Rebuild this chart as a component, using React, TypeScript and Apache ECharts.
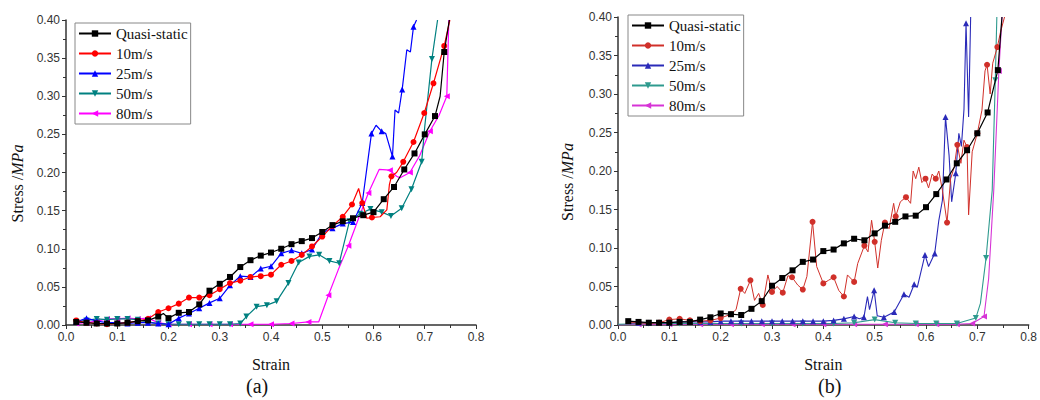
import React, { useEffect, useRef } from "react";
import * as echarts from "echarts";

// ---------- data (strain, stress[, 0 = no marker]) ----------
const seriesNames = ["Quasi-static", "10m/s", "25m/s", "50m/s", "80m/s"];

const quasiA = [
  [0.02, 0.004], [0.04, 0.003], [0.06, 0.002], [0.08, 0.002], [0.10, 0.002], [0.12, 0.003],
  [0.14, 0.005], [0.16, 0.006], [0.18, 0.011], [0.19, 0.015, 0], [0.20, 0.009], [0.22, 0.016],
  [0.24, 0.017], [0.26, 0.027], [0.28, 0.045], [0.30, 0.054], [0.32, 0.063], [0.34, 0.076],
  [0.36, 0.085], [0.38, 0.091], [0.40, 0.095], [0.42, 0.100], [0.44, 0.106], [0.46, 0.110],
  [0.48, 0.114], [0.50, 0.122], [0.52, 0.131], [0.54, 0.136], [0.56, 0.140], [0.58, 0.144],
  [0.60, 0.148], [0.62, 0.165], [0.64, 0.181], [0.66, 0.204], [0.68, 0.225], [0.70, 0.250],
  [0.72, 0.274], [0.73, 0.300, 0], [0.738, 0.358], [0.748, 0.40, 0],
];
const v10A = [
  [0.02, 0.006], [0.04, 0.003], [0.06, 0.002], [0.08, 0.001], [0.10, 0.002], [0.12, 0.003],
  [0.14, 0.005], [0.16, 0.008], [0.18, 0.017], [0.20, 0.022], [0.22, 0.028], [0.24, 0.036],
  [0.26, 0.036], [0.28, 0.039], [0.30, 0.047], [0.32, 0.055], [0.34, 0.058], [0.36, 0.063],
  [0.38, 0.064], [0.40, 0.066], [0.42, 0.079], [0.44, 0.084], [0.46, 0.092], [0.48, 0.103],
  [0.50, 0.116], [0.52, 0.130], [0.54, 0.142], [0.558, 0.158], [0.571, 0.179, 0], [0.578, 0.160],
  [0.587, 0.140, 0], [0.597, 0.141], [0.613, 0.142, 0], [0.626, 0.151, 0], [0.631, 0.184, 0],
  [0.635, 0.195], [0.645, 0.200, 0], [0.658, 0.214], [0.678, 0.240], [0.699, 0.278],
  [0.717, 0.317], [0.738, 0.366], [0.749, 0.40, 0],
];
const v25A = [
  [0.02, 0.004], [0.04, 0.009], [0.06, 0.005], [0.08, 0.003], [0.10, 0.003], [0.12, 0.002],
  [0.14, 0.003], [0.16, 0.003], [0.18, 0.002], [0.20, 0.001], [0.22, 0.009], [0.24, 0.015],
  [0.26, 0.022], [0.28, 0.029], [0.30, 0.035], [0.32, 0.052], [0.34, 0.064], [0.36, 0.063],
  [0.38, 0.074], [0.40, 0.077], [0.42, 0.094], [0.44, 0.098], [0.46, 0.094], [0.48, 0.099],
  [0.50, 0.121], [0.52, 0.127], [0.54, 0.133], [0.56, 0.135], [0.578, 0.160], [0.596, 0.251],
  [0.605, 0.262, 0], [0.616, 0.254], [0.624, 0.251, 0], [0.637, 0.221], [0.642, 0.282, 0],
  [0.649, 0.278, 0], [0.656, 0.309], [0.665, 0.361, 0], [0.672, 0.358, 0], [0.678, 0.391],
  [0.684, 0.40, 0],
];
const v50A = [
  [0.02, 0.004], [0.04, 0.006], [0.06, 0.008], [0.08, 0.007], [0.10, 0.008], [0.12, 0.008],
  [0.14, 0.007], [0.16, 0.004], [0.18, 0.002], [0.20, 0.001], [0.22, 0.001], [0.24, 0.001],
  [0.26, 0.001], [0.28, 0.001], [0.30, 0.001], [0.32, 0.001], [0.34, 0.002], [0.352, 0.011],
  [0.372, 0.024], [0.392, 0.026], [0.411, 0.031], [0.434, 0.055], [0.454, 0.082], [0.475, 0.090],
  [0.494, 0.092], [0.514, 0.084], [0.533, 0.081], [0.553, 0.136], [0.574, 0.146], [0.594, 0.152],
  [0.616, 0.148], [0.634, 0.143], [0.655, 0.153], [0.674, 0.178], [0.694, 0.214], [0.70, 0.26, 0],
  [0.714, 0.349], [0.725, 0.40, 0],
];
const v80A = [
  [0.02, 0.002], [0.04, 0.003], [0.06, 0.005], [0.08, 0.008], [0.10, 0.008], [0.12, 0.009],
  [0.14, 0.008], [0.16, 0.009], [0.18, 0.003], [0.20, 0.001], [0.24, 0.001], [0.28, 0.001],
  [0.32, 0.001], [0.36, 0.001], [0.40, 0.001], [0.44, 0.002], [0.473, 0.004], [0.493, 0.004, 0],
  [0.512, 0.039], [0.531, 0.072, 0], [0.551, 0.104], [0.571, 0.140, 0], [0.59, 0.173],
  [0.611, 0.204, 0], [0.632, 0.203], [0.645, 0.195, 0], [0.652, 0.193, 0], [0.671, 0.200],
  [0.69, 0.222, 0], [0.71, 0.254], [0.728, 0.275, 0], [0.743, 0.300], [0.747, 0.40, 0],
];

const quasiB = [
  [0.02, 0.005], [0.04, 0.004], [0.06, 0.003], [0.08, 0.003], [0.10, 0.003], [0.12, 0.004],
  [0.14, 0.004], [0.16, 0.007], [0.18, 0.010], [0.20, 0.015], [0.22, 0.014], [0.24, 0.013],
  [0.26, 0.021], [0.28, 0.031], [0.30, 0.051], [0.32, 0.061], [0.34, 0.071], [0.36, 0.082],
  [0.38, 0.085], [0.40, 0.096], [0.42, 0.098], [0.44, 0.106], [0.46, 0.112], [0.48, 0.110],
  [0.50, 0.119], [0.52, 0.129], [0.54, 0.134], [0.56, 0.141], [0.58, 0.142], [0.60, 0.153],
  [0.62, 0.170], [0.64, 0.189], [0.66, 0.210], [0.68, 0.227], [0.70, 0.249], [0.72, 0.276],
  [0.74, 0.331], [0.748, 0.40, 0],
];
const v10B = [
  [0.02, 0.003, 0], [0.04, 0.003, 0], [0.06, 0.002, 0], [0.08, 0.003], [0.10, 0.007], [0.12, 0.008],
  [0.14, 0.006], [0.16, 0.005], [0.18, 0.006], [0.20, 0.009], [0.22, 0.014], [0.23, 0.020, 0],
  [0.239, 0.047], [0.247, 0.041, 0], [0.258, 0.058], [0.266, 0.032, 0], [0.274, 0.041, 0],
  [0.282, 0.026], [0.292, 0.065, 0], [0.30, 0.043], [0.31, 0.050, 0], [0.321, 0.042],
  [0.331, 0.064, 0], [0.339, 0.062], [0.35, 0.052, 0], [0.36, 0.046], [0.368, 0.063, 0],
  [0.379, 0.134], [0.387, 0.076, 0], [0.40, 0.054], [0.41, 0.058, 0], [0.42, 0.062],
  [0.43, 0.045, 0], [0.44, 0.037], [0.447, 0.065, 0], [0.46, 0.056], [0.467, 0.080, 0],
  [0.48, 0.103], [0.487, 0.095, 0], [0.494, 0.136, 0], [0.50, 0.108], [0.506, 0.074, 0],
  [0.513, 0.110, 0], [0.52, 0.133], [0.528, 0.125, 0], [0.537, 0.158, 0], [0.541, 0.141],
  [0.55, 0.160, 0], [0.561, 0.166], [0.57, 0.158, 0], [0.575, 0.200, 0], [0.58, 0.190, 0],
  [0.586, 0.205, 0], [0.592, 0.185, 0], [0.599, 0.190], [0.605, 0.178, 0], [0.612, 0.196, 0],
  [0.619, 0.190], [0.625, 0.200, 0], [0.632, 0.175, 0], [0.641, 0.133], [0.648, 0.190, 0],
  [0.655, 0.205, 0], [0.661, 0.234], [0.668, 0.210, 0], [0.674, 0.240, 0], [0.68, 0.231],
  [0.683, 0.143, 0], [0.69, 0.225, 0], [0.70, 0.249], [0.709, 0.279, 0], [0.715, 0.330, 0],
  [0.719, 0.338], [0.725, 0.300, 0], [0.73, 0.340, 0], [0.739, 0.361], [0.745, 0.380, 0],
  [0.753, 0.40, 0],
];
const v25B = [
  [0.02, 0.002, 0], [0.04, 0.003], [0.06, 0.003], [0.08, 0.003], [0.10, 0.003], [0.12, 0.004],
  [0.14, 0.004], [0.16, 0.004], [0.18, 0.004], [0.20, 0.005], [0.22, 0.005], [0.24, 0.005],
  [0.26, 0.005], [0.28, 0.005], [0.30, 0.005], [0.32, 0.005], [0.34, 0.005], [0.36, 0.005],
  [0.38, 0.005], [0.40, 0.005], [0.42, 0.006], [0.44, 0.008], [0.46, 0.011], [0.47, 0.008, 0],
  [0.479, 0.010], [0.486, 0.037, 0], [0.49, 0.020, 0], [0.499, 0.045], [0.505, 0.012, 0],
  [0.518, 0.010], [0.538, 0.017], [0.557, 0.040], [0.567, 0.036, 0], [0.577, 0.053],
  [0.583, 0.049, 0], [0.598, 0.091], [0.605, 0.076, 0], [0.617, 0.093], [0.625, 0.136, 0],
  [0.632, 0.162, 0], [0.638, 0.270], [0.645, 0.220, 0], [0.65, 0.160, 0], [0.658, 0.197],
  [0.664, 0.249, 0], [0.669, 0.232, 0], [0.674, 0.280, 0], [0.678, 0.392], [0.683, 0.270, 0],
  [0.687, 0.40, 0],
];
const v50B = [
  [0.0, 0.001, 0], [0.06, 0.002], [0.12, 0.002], [0.18, 0.002], [0.24, 0.002], [0.30, 0.002],
  [0.36, 0.002], [0.42, 0.002], [0.46, 0.003], [0.50, 0.007], [0.54, 0.003], [0.58, 0.002],
  [0.62, 0.002], [0.66, 0.002], [0.697, 0.009], [0.706, 0.028, 0], [0.717, 0.087],
  [0.729, 0.175, 0], [0.735, 0.318], [0.738, 0.40, 0],
];
const v80B = [
  [0.0, 0.0, 0], [0.04, 0.001], [0.10, 0.001], [0.16, 0.001], [0.22, 0.001], [0.28, 0.001],
  [0.34, 0.001], [0.40, 0.001], [0.46, 0.001], [0.52, 0.001], [0.58, 0.001], [0.62, 0.001],
  [0.66, 0.001], [0.69, 0.002], [0.713, 0.011], [0.722, 0.060, 0], [0.732, 0.175, 0],
  [0.742, 0.330], [0.748, 0.40, 0],
];

const colorsA = ["#000000", "#ff0000", "#0000ff", "#008080", "#ff00ff"];
const colorsB = ["#000000", "#d0302a", "#2a2ab8", "#2e9a8e", "#d633d6"];
const symbols = ["rect", "circle", "triangle", "triangle", "triangle"];
const rotations = [0, 0, 0, 180, 90];

const SERIF = "'Liberation Serif', 'Times New Roman', serif";
const SANS = "'Liberation Sans', Arial, sans-serif";

type Cfg = {
  data: number[][][];
  colors: string[];
  grid: { left: number; top: number; width: number; height: number };
  legendPos: { left: number; top: number };
  label: string;
  labelX: number;
  yNameGap: number;
  widths: number[];
};

function buildOption(c: Cfg) {
  const axisColor = "#333";
  return {
    animation: false,
    backgroundColor: "#fff",
    grid: { ...c.grid, containLabel: false },
    legend: {
      orient: "vertical",
      left: c.legendPos.left,
      top: c.legendPos.top,
      data: seriesNames,
      itemWidth: 32,
      itemHeight: 8,
      itemGap: 3,
      padding: [2, 3, 2, 3],
      borderColor: "#888",
      borderWidth: 1,
      backgroundColor: "#fff",
      textStyle: { fontFamily: SERIF, fontSize: 15, color: "#111", lineHeight: 17 },
    },
    xAxis: {
      type: "value",
      min: 0,
      max: 0.8,
      interval: 0.1,
      name: "Strain",
      nameLocation: "middle",
      nameGap: 31,
      nameTextStyle: { fontFamily: SERIF, fontSize: 16, color: "#111" },
      axisLine: { show: true, onZero: false, lineStyle: { color: axisColor, width: 1.5 } },
      axisTick: { show: true, length: 4, lineStyle: { color: axisColor } },
      minorTick: { show: true, splitNumber: 2, length: 3, lineStyle: { color: axisColor } },
      splitLine: { show: false },
      axisLabel: {
        fontFamily: SANS,
        fontSize: 12,
        color: "#333",
        margin: 6,
        formatter: (v: number) => v.toFixed(1),
      },
    },
    yAxis: {
      type: "value",
      min: 0,
      max: 0.4,
      interval: 0.05,
      name: "{n|Stress /}{i|MPa}",
      nameLocation: "middle",
      nameGap: c.yNameGap,
      nameTextStyle: {
        fontFamily: SERIF,
        fontSize: 16,
        color: "#111",
        padding: [0, 22, 0, 0],
        rich: {
          n: { fontFamily: SERIF, fontSize: 16, color: "#111" },
          i: { fontFamily: SERIF, fontSize: 16, color: "#111", fontStyle: "italic" },
        },
      },
      axisLine: { show: true, onZero: false, lineStyle: { color: axisColor, width: 1.5 } },
      axisTick: { show: true, length: 4, lineStyle: { color: axisColor } },
      minorTick: { show: true, splitNumber: 2, length: 3, lineStyle: { color: axisColor } },
      splitLine: { show: false },
      axisLabel: {
        fontFamily: SANS,
        fontSize: 12,
        color: "#333",
        margin: 6,
        formatter: (v: number) => v.toFixed(2),
      },
    },
    graphic: [
      {
        type: "text",
        left: c.labelX - 12,
        top: 376,
        style: { text: c.label, font: `20px ${SERIF}`, fill: "#111" },
      },
    ],
    series: seriesNames.map((name, i) => ({
      type: "line",
      name,
      data: c.data[i],
      symbol: symbols[i],
      symbolRotate: rotations[i],
      symbolSize: (v: number[]) => (v.length > 2 && v[2] === 0 ? 0 : 6),
      showSymbol: true,
      showAllSymbol: true,
      clip: true,
      z: 10 - i,
      lineStyle: { color: c.colors[i], width: c.widths[i] },
      itemStyle: { color: c.colors[i] },
      emphasis: { disabled: true },
    })),
  };
}

const cfgA: Cfg = {
  data: [quasiA, v10A, v25A, v50A, v80A],
  colors: colorsA,
  grid: { left: 66, top: 20, width: 410, height: 305 },
  legendPos: { left: 75, top: 23 },
  label: "(a)",
  labelX: 258,
  yNameGap: 40,
  widths: [1.2, 1.2, 1.2, 1.2, 1.2],
};
const cfgB: Cfg = {
  data: [quasiB, v10B, v25B, v50B, v80B],
  colors: colorsB,
  grid: { left: 98, top: 17, width: 412, height: 308 },
  legendPos: { left: 108, top: 15 },
  label: "(b)",
  labelX: 310,
  yNameGap: 43,
  widths: [1.2, 1, 1.1, 1.1, 1.1],
};

function Panel({ cfg, left }: { cfg: Cfg; left: number }) {
  const ref = useRef<HTMLDivElement>(null);
  useEffect(() => {
    if (!ref.current) return;
    const chart = echarts.init(ref.current, undefined, { renderer: "svg" });
    chart.setOption(buildOption(cfg) as any);
    return () => chart.dispose();
  }, [cfg]);
  return (
    <div
      ref={ref}
      style={{ position: "absolute", left, top: 0, width: 520, height: 400 }}
    />
  );
}

export default function App() {
  return (
    <div
      style={{
        position: "fixed",
        left: 0,
        top: 0,
        width: 1040,
        height: 400,
        background: "#fff",
        overflow: "hidden",
      }}
    >
      <Panel cfg={cfgA} left={0} />
      <Panel cfg={cfgB} left={520} />
    </div>
  );
}
